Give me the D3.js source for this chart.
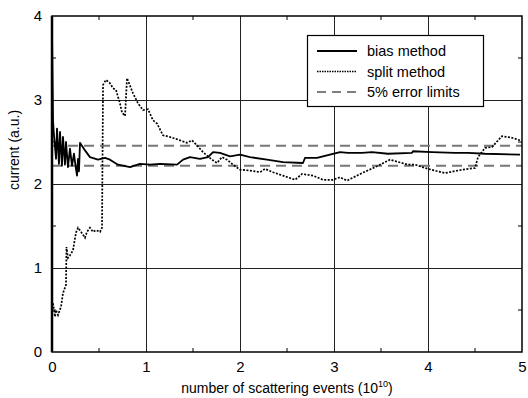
<!DOCTYPE html>
<meta charset="utf-8">
<style>
    body { margin: 0; background: #fff; }
    text { font-family: "Liberation Sans", Arial, sans-serif; fill: #000; }
    .tick text { font-size: 15px; }
    .grid line { stroke: #222; stroke-width: 1; shape-rendering: crispEdges; }
</style>
<body>
<div id="chart"></div>
<script src="https://cdn.jsdelivr.net/npm/d3@7"></script>
<script>
    // bias method (x in 1e10 scattering events, y current a.u.)
    var biasX = [0.000, 0.011, 0.021, 0.043, 0.053, 0.074, 0.085, 0.106, 0.117, 0.138, 0.149, 0.170, 0.191, 0.213, 0.234, 0.255, 0.266, 0.277, 0.287, 0.298,
        0.351, 0.404, 0.489, 0.564, 0.617, 0.702, 0.830, 0.936, 1.043, 1.149, 1.330, 1.394, 1.468, 1.574, 1.660, 1.713, 1.787, 1.894, 2.000, 2.106,
        2.287, 2.457, 2.670, 2.691, 2.819, 2.957, 3.064, 3.149, 3.298, 3.404, 3.574, 3.830, 3.840, 4.043, 4.287, 4.426, 4.606, 4.979];
    var biasY = [3.80, 2.75, 2.58, 2.30, 2.66, 2.24, 2.62, 2.22, 2.56, 2.23, 2.50, 2.20, 2.42, 2.22, 2.36, 2.18, 2.10, 2.30, 2.15, 2.49,
        2.40, 2.32, 2.29, 2.31, 2.29, 2.23, 2.20, 2.24, 2.23, 2.24, 2.23, 2.29, 2.32, 2.30, 2.32, 2.38, 2.37, 2.33, 2.35, 2.32,
        2.29, 2.26, 2.25, 2.31, 2.31, 2.35, 2.38, 2.37, 2.37, 2.38, 2.36, 2.37, 2.39, 2.38, 2.37, 2.37, 2.36, 2.35];

    // split method
    var splitX = [0.011, 0.032, 0.043, 0.064, 0.096, 0.117, 0.149, 0.154, 0.170, 0.191, 0.223, 0.255, 0.277, 0.309, 0.351, 0.372, 0.404, 0.436, 0.468, 0.511,
        0.532, 0.543, 0.574, 0.617, 0.649, 0.681, 0.723, 0.745, 0.777, 0.798, 0.862, 0.915, 0.968, 1.021, 1.074, 1.117, 1.181, 1.255, 1.362, 1.436,
        1.489, 1.543, 1.606, 1.702, 1.755, 1.809, 1.862, 1.926, 2.000, 2.106, 2.213, 2.266, 2.351, 2.457, 2.585, 2.660, 2.777, 2.883, 2.989, 3.064,
        3.138, 3.298, 3.436, 3.596, 3.787, 3.862, 4.000, 4.181, 4.362, 4.500, 4.532, 4.606, 4.681, 4.787, 4.894, 4.979];
    var splitY = [0.58, 0.42, 0.50, 0.44, 0.54, 0.70, 0.80, 1.25, 1.12, 1.15, 1.21, 1.42, 1.48, 1.43, 1.36, 1.43, 1.48, 1.43, 1.45, 1.43,
        1.48, 3.18, 3.24, 3.20, 3.14, 3.12, 2.96, 2.85, 2.81, 3.26, 3.08, 2.96, 2.88, 2.89, 2.76, 2.72, 2.58, 2.56, 2.52, 2.49,
        2.52, 2.46, 2.38, 2.29, 2.25, 2.32, 2.29, 2.23, 2.17, 2.16, 2.14, 2.18, 2.14, 2.10, 2.05, 2.12, 2.10, 2.05, 2.05, 2.08,
        2.04, 2.13, 2.20, 2.29, 2.23, 2.23, 2.18, 2.13, 2.17, 2.19, 2.32, 2.43, 2.44, 2.57, 2.55, 2.52];

    var errorLimits = [2.218, 2.455];
    var xTicks = [0, 1, 2, 3, 4, 5];
    var yTicks = [0, 1, 2, 3, 4];
    var minorX = [0.5, 1.5, 2.5, 3.5, 4.5];
    var minorY = [0.5, 1.5, 2.5, 3.5];
    var legendItems = ["bias method", "split method", "5% error limits"];

    var margin = { top: 16, right: 6, bottom: 46, left: 52 };
    var W = 528, H = 398;
    var width = W - margin.left - margin.right,
        height = H - margin.top - margin.bottom;

    var x = d3.scaleLinear().domain([0, 5]).range([0, width]);
    var y = d3.scaleLinear().domain([0, 4]).range([height, 0]);

    var svg = d3.select("#chart").append("svg")
        .attr("width", W).attr("height", H)
        .append("g")
        .attr("transform", "translate(" + margin.left + "," + margin.top + ")");

    // grid
    var grid = svg.append("g").attr("class", "grid");
    grid.selectAll(".gx").data(xTicks.slice(1, -1)).enter().append("line")
        .attr("x1", d => Math.round(x(d)) + 0.5).attr("x2", d => Math.round(x(d)) + 0.5)
        .attr("y1", 0).attr("y2", height).attr("stroke", "#333");
    grid.selectAll(".gy").data(yTicks.slice(1, -1)).enter().append("line")
        .attr("y1", d => Math.round(y(d)) + 0.5).attr("y2", d => Math.round(y(d)) + 0.5)
        .attr("x1", 0).attr("x2", width);

    // minor ticks on all four sides
    var tk = 4;
    svg.selectAll(".mxb").data(minorX).enter().append("line")
        .attr("x1", d => x(d)).attr("x2", d => x(d)).attr("y1", height).attr("y2", height - tk)
        .attr("stroke", "#000");
    svg.selectAll(".mxt").data(minorX).enter().append("line")
        .attr("x1", d => x(d)).attr("x2", d => x(d)).attr("y1", 0).attr("y2", tk)
        .attr("stroke", "#000");
    svg.selectAll(".myl").data(minorY).enter().append("line")
        .attr("y1", d => y(d)).attr("y2", d => y(d)).attr("x1", 0).attr("x2", tk)
        .attr("stroke", "#000");
    svg.selectAll(".myr").data(minorY).enter().append("line")
        .attr("y1", d => y(d)).attr("y2", d => y(d)).attr("x1", width).attr("x2", width - tk)
        .attr("stroke", "#000");

    // error limits
    svg.selectAll(".err").data(errorLimits).enter().append("line")
        .attr("x1", 0).attr("x2", width)
        .attr("y1", d => y(d)).attr("y2", d => y(d))
        .attr("stroke", "#777").attr("stroke-width", 2)
        .attr("stroke-dasharray", "10,6");

    var line = d3.line().x(d => x(d[0])).y(d => y(d[1]));

    svg.append("path")
        .datum(d3.zip(splitX, splitY))
        .attr("fill", "none").attr("stroke", "#000")
        .attr("stroke-width", 1.7).attr("stroke-dasharray", "2,1.5")
        .attr("d", line);

    svg.append("path")
        .datum(d3.zip(biasX, biasY))
        .attr("fill", "none").attr("stroke", "#000")
        .attr("stroke-width", 1.8).attr("stroke-linejoin", "round")
        .attr("d", line);

    // frame
    svg.append("rect")
        .attr("x", 0).attr("y", 0).attr("width", width).attr("height", height)
        .attr("fill", "none").attr("stroke", "#000").attr("stroke-width", 1.5);
    svg.append("line").attr("x1", 0).attr("x2", 0).attr("y1", 0).attr("y2", height)
        .attr("stroke", "#000").attr("stroke-width", 2.5);

    // axes labels
    var xAxis = svg.append("g")
        .attr("transform", "translate(0," + height + ")")
        .call(d3.axisBottom(x).tickValues(xTicks).tickSize(0).tickPadding(6).tickFormat(d3.format("d")));
    xAxis.select(".domain").remove();
    xAxis.selectAll("text").attr("dy", "0.95em");

    var yAxis = svg.append("g")
        .call(d3.axisLeft(y).tickValues(yTicks).tickSize(0).tickPadding(10).tickFormat(d3.format("d")));
    yAxis.select(".domain").remove();

    var xt = svg.append("text")
        .attr("x", width / 2).attr("y", height + 41)
        .attr("text-anchor", "middle").style("font-size", "14px")
        .text("number of scattering events (10");
    xt.append("tspan").attr("dy", -6).style("font-size", "9px").text("10");
    xt.append("tspan").attr("dy", 6).text(")");

    svg.append("text")
        .attr("transform", "translate(" + (-33) + "," + (height / 2 - 34) + ") rotate(-90)")
        .attr("text-anchor", "middle").style("font-size", "14px")
        .text("current (a.u.)");

    // legend
    var lg = svg.append("g").attr("transform", "translate(" + (307 - margin.left) + "," + (35 - margin.top) + ")");
    lg.append("rect").attr("x", 0.5).attr("y", 0.5).attr("width", 176).attr("height", 71)
        .attr("fill", "#fff").attr("stroke", "#000").attr("stroke-width", 1.2);
    var styles = [
        { w: 1.8, dash: null, c: "#000" },
        { w: 1.4, dash: "1.5,1", c: "#000" },
        { w: 1.2, dash: "9,6", c: "#000" }
    ];
    legendItems.forEach(function (name, i) {
        var yy = 16 + i * 20.5;
        lg.append("line").attr("x1", 10).attr("x2", 50).attr("y1", yy).attr("y2", yy)
            .attr("stroke", styles[i].c).attr("stroke-width", styles[i].w)
            .attr("stroke-dasharray", styles[i].dash);
        lg.append("text").attr("x", 60).attr("y", yy + 5).style("font-size", "14.5px").text(name);
    });
</script>
</body>
